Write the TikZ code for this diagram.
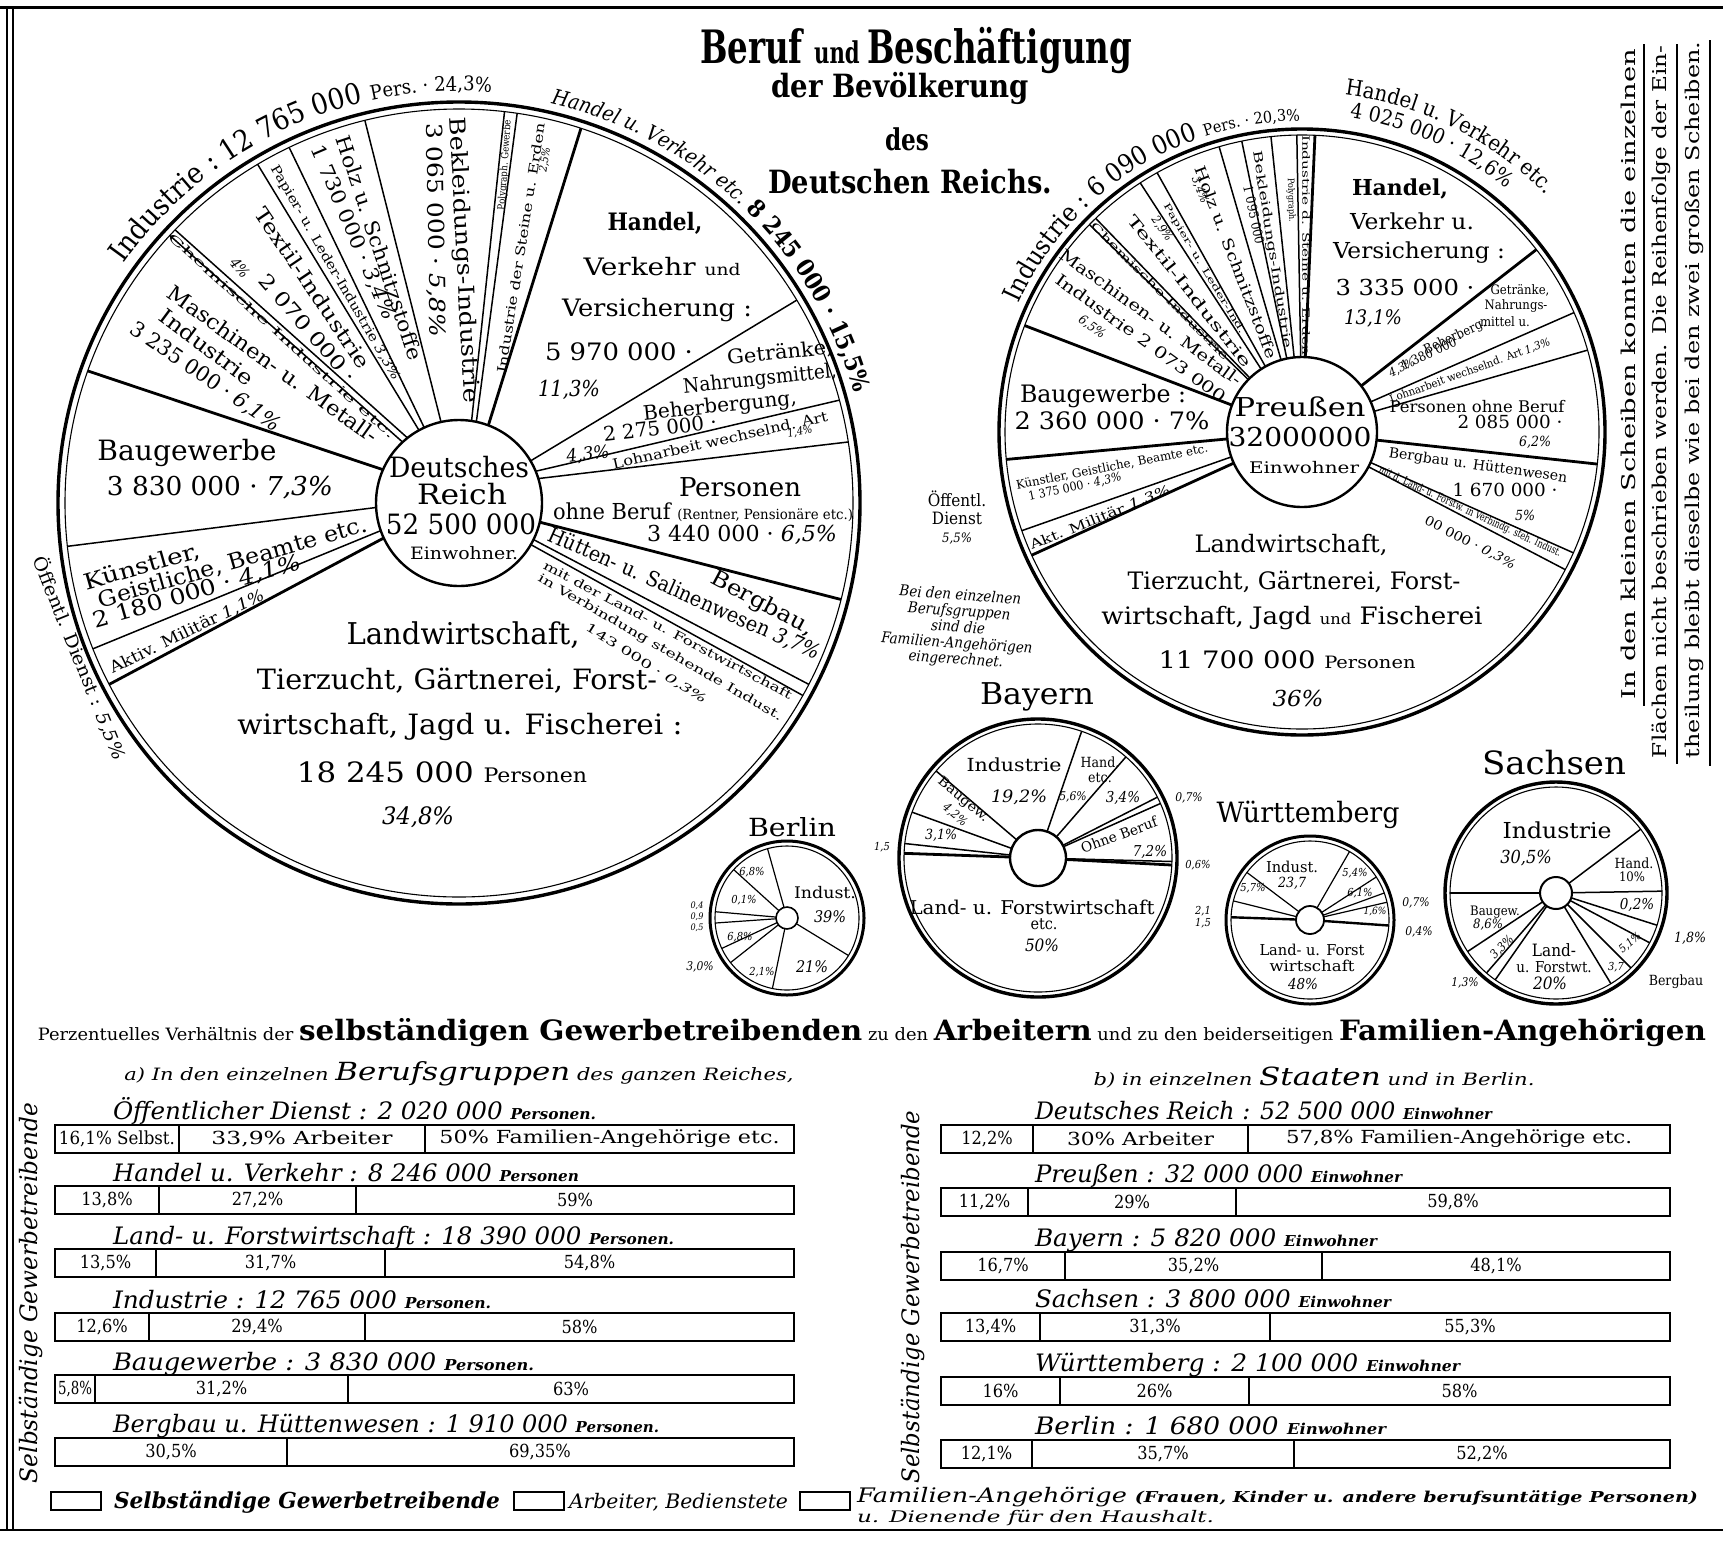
\documentclass[tikz,border=0pt]{standalone}
\usepackage{fontspec}
\setmainfont{DejaVu Serif Condensed}
\usepackage{graphicx}
\usetikzlibrary{calc,decorations.text}

% picture units are pt, so font sizes are given in the same units
\newcommand{\fsz}[1]{\fontsize{#1}{#1}\selectfont}
% set a text to a given width, height kept
\newcommand{\fitw}[2]{\resizebox{#1pt}{\height}{#2}}
% one bar of three parts: name, y, left, cut, cut, right, three texts
\newcommand{\pctbar}[9]{%
  \draw[barbox] (#3,-#2+14) rectangle (#6,-#2-14);
  \draw[barsep] (#4,-#2+14) -- (#4,-#2-14);
  \draw[barsep] (#5,-#2+14) -- (#5,-#2-14);
  \node[lab] (#1a) at ({(#3+#4)/2},-#2) {\fsz{18}#7};
  \node[lab] (#1b) at ({(#4+#5)/2},-#2) {\fsz{18}#8};
  \node[lab] (#1c) at ({(#5+#6)/2},-#2) {\fsz{18}#9};
}

\begin{document}
\begin{tikzpicture}[
    x=1pt, y=1pt,
    rimo/.style={line width=3.4pt},
    rimi/.style={line width=1.1pt},
    spoke/.style={line width=1.5pt},
    heavy/.style={line width=2.8pt},
    hub/.style={draw, circle, line width=2.4pt, fill=white, inner sep=0pt},
    lab/.style={inner sep=0pt, outer sep=0pt},
    ilab/.style={lab, font=\itshape},
    barbox/.style={line width=2.4pt},
    barsep/.style={line width=1.6pt},
    keybox/.style={draw, line width=1.8pt, inner sep=0pt, minimum width=50, minimum height=18}
  ]
  \useasboundingbox (0,0) rectangle (1723,-1542);

  % frame
  \draw[line width=3pt] (0,-7) -- (1723,-7);
  \draw[line width=2.4pt] (7,-7) -- (7,-1530);
  \draw[line width=1.4pt] (13,-7) -- (13,-1530);
  \draw[line width=2.2pt] (0,-1530) -- (1723,-1530);

  % title
  \node[lab, anchor=base] (title) at (916,-63) {\fitw{432}{\bfseries\fsz{46}Beruf \fsz{30}und \fsz{46}Beschäftigung}};
  \node[lab, anchor=base] (title2) at (900,-97) {\fitw{257}{\bfseries\fsz{32}der Bevölkerung}};
  \node[lab, anchor=base] (title3) at (907,-150) {\fitw{44}{\bfseries\fsz{30}des}};
  \node[lab, anchor=base] (title4) at (910,-193) {\fitw{284}{\bfseries\fsz{32}Deutschen Reichs.}};

  % ---------------- Deutsches Reich ----------------
  \coordinate (C) at (459,-503);
  \draw[rimo] (C) circle[radius=401];
  \draw[rimi] (C) circle[radius=394];
  \begin{scope}
    \clip (C) circle[radius=394];
    \foreach \xo/\yo/\xi/\yi in {167/233/398/438, 173/228/402/433, 255/160/417/427,
        287/143/422/423, 363/113/440/418, 505/107/472/417, 518/107/477/417,
        797/300/537/457, 840/400/541/470, 848/442/543/478, 810/685/540/543,
        802/695/537/548, 90/650/375/533, 62/547/372/508}
      \draw[spoke] ($(\xo,-\yo)!1.06!(\xi,-\yi)$) -- ($(\xi,-\yi)!1.08!(\xo,-\yo)$);
    \foreach \xo/\yo/\xi/\yi in {85/370/378/468, 582/125/490/420, 843/600/543/523, 108/685/380/540}
      \draw[heavy] ($(\xo,-\yo)!1.06!(\xi,-\yi)$) -- ($(\xi,-\yi)!1.08!(\xo,-\yo)$);
  \end{scope}
  \node[hub, minimum size=166] (reich) at (C) {};
  \node[lab] (reichA) at (459,-467) {\fitw{140}{\fsz{28}Deutsches}};
  \node[lab] (reichB) at (462,-494) {\fitw{90}{\fsz{28}Reich}};
  \node[lab] (reichC) at (461,-524) {\fitw{150}{\fsz{28}52 500 000}};
  \node[lab] (reichD) at (464,-553) {\fitw{108}{\fsz{17}Einwohner.}};

  \path[decorate, decoration={text along path, text align=center,
      text={|\fsz{29}|Industrie : 12 765 000 |\fsz{20}|Pers. · 24,3{\%}}}]
    ($(C)+(156:412)$) arc[start angle=156, end angle=74, radius=412];
  \path[decorate, decoration={text along path, text align=center,
      text={|\itshape\fsz{21}|Handel u. Verkehr etc. |\upshape\bfseries\fsz{24}|8 245 000 · 15,5{\%}}}]
    ($(C)+(86:410)$) arc[start angle=86, end angle=6.6, radius=410];

  \node[lab] (bau) at (187,-453) {\fitw{179}{\fsz{28}Baugewerbe}};
  \node[lab] (bauN) at (220,-488) {\fitw{226}{\fsz{26}3 830 000 · \textit{7,3\%}}};
  \node[lab, rotate=16] (kunA) at (142,-567) {\fitw{120}{\fsz{22}Künstler,}};
  \node[lab, rotate=16] (kunB) at (233,-563) {\fitw{279}{\fsz{22}Geistliche, Beamte etc.}};
  \node[lab, rotate=16] (kunC) at (197,-592) {\fitw{215}{\fsz{22}2 180 000 · \textit{4,1\%}}};
  \node[lab, rotate=26] (mil) at (187,-632) {\fitw{170}{\fsz{16}Aktiv. Militär \textit{1,1\%}}};
  \node[lab, rotate=-68] (oeff) at (80,-658) {\fitw{218}{\fsz{18}Öffentl. Dienst : \textit{5,5\%}}};

  \node[lab] (lwA) at (463,-635) {\fitw{233}{\fsz{30}Landwirtschaft,}};
  \node[lab] (lwB) at (457,-681) {\fitw{400}{\fsz{28}Tierzucht, Gärtnerei, Forst-}};
  \node[lab] (lwC) at (460,-727) {\fitw{445}{\fsz{28}wirtschaft, Jagd u. Fischerei :}};
  \node[lab] (lwD) at (442,-772) {\fitw{290}{\fsz{28}18 245 000 \fsz{20}Personen}};
  \node[ilab] (lwE) at (418,-817) {\fitw{72}{\fsz{24}34,8\%}};

  \node[lab, rotate=-28] (berg) at (762,-604) {\fitw{113}{\fsz{22}Bergbau,}};
  \node[lab, rotate=-24] (huet) at (684,-594) {\fitw{295}{\fsz{21}Hütten- u. Salinenwesen \textit{3,7\%}}};
  \node[lab, rotate=-28] (bandA) at (668,-630) {\fitw{280}{\fsz{12}mit der Land- u. Forstwirtschaft}};
  \node[lab, rotate=-30] (bandB) at (660,-648) {\fitw{280}{\fsz{12}in Verbindung stehende Indust.}};
  \node[lab, rotate=-32] (bandC) at (646,-664) {\fitw{140}{\fsz{12}143 000 · \textit{0,3\%}}};

  \node[lab] (pers) at (740,-487) {\fitw{122}{\fsz{26}Personen}};
  \node[lab] (persB) at (703,-512) {\fitw{300}{\fsz{22}ohne Beruf {\fsz{14}(Rentner, Pensionäre etc.)}}};
  \node[lab] (persC) at (742,-535) {\fitw{190}{\fsz{22}3 440 000 · \textit{6,5\%}}};

  \node[lab, rotate=12.6] (lohn) at (720,-440) {\fitw{220}{\fsz{14}Lohnarbeit wechselnd. Art}};
  \node[ilab, rotate=10] (lohnP) at (800,-432) {\fsz{11}1,4\%};

  \node[lab, rotate=6] (getA) at (780,-353) {\fitw{106}{\fsz{20}Getränke,}};
  \node[lab, rotate=6] (getB) at (760,-380) {\fitw{154}{\fsz{20}Nahrungsmittel,}};
  \node[lab, rotate=6] (getC) at (720,-407) {\fitw{154}{\fsz{20}Beherbergung,}};
  \node[lab, rotate=6] (getD) at (660,-428) {\fitw{114}{\fsz{20}2 275 000 ·}};
  \node[ilab, rotate=6] (getE) at (588,-455) {\fitw{43}{\fsz{18}4,3\%}};

  \node[lab] (hanA) at (655,-223) {\fitw{95}{\bfseries\fsz{24}Handel,}};
  \node[lab] (hanB) at (662,-267) {\fitw{157}{\fsz{24}Verkehr \fsz{16}und}};
  \node[lab] (hanC) at (657,-310) {\fitw{190}{\fsz{24}Versicherung :}};
  \node[lab] (hanD) at (619,-352) {\fitw{148}{\fsz{24}5 970 000 ·}};
  \node[ilab] (hanE) at (569,-390) {\fitw{62}{\fsz{22}11,3\%}};

  \node[lab, rotate=81] (steine) at (521,-248) {\fitw{253}{\fsz{13}Industrie der Steine u. Erden}};
  \node[ilab, rotate=81] (steineP) at (545,-160) {\fsz{11}2,5\%};
  \node[lab, rotate=86] (poly) at (505,-165) {\fitw{90}{\fsz{10}Polygraph. Gewerbe}};
  \node[lab, rotate=-87] (bekl) at (463,-260) {\fitw{286}{\fsz{22}Bekleidungs-Industrie}};
  \node[lab, rotate=-89] (beklN) at (435,-230) {\fitw{214}{\fsz{22}3 065 000 · \textit{5,8\%}}};
  \node[lab, rotate=-71.6] (holz) at (380,-248) {\fitw{235}{\fsz{20}Holz u. Schnitzstoffe}};
  \node[lab, rotate=-67] (holzN) at (353,-233) {\fitw{188}{\fsz{20}1 730 000 · \textit{3,4\%}}};
  \node[lab, rotate=-60] (papier) at (335,-273) {\fitw{246}{\fsz{13}Papier- u. Leder-Industrie \textit{3,3\%}}};
  \node[lab, rotate=-56] (textil) at (313,-288) {\fitw{190}{\fsz{20}Textil-Industrie}};
  \node[lab, rotate=-49] (textilN) at (308,-328) {\fitw{137}{\fsz{20}2 070 000 ·}};
  \node[ilab, rotate=-50] (textilP) at (240,-268) {\fsz{15}4\%};
  \node[lab, rotate=-42] (chem) at (282,-336) {\fitw{300}{\fsz{11}Chemische Industrie etc.}};
  \node[lab, rotate=-35.6] (masch) at (273,-364) {\fitw{254}{\fsz{21}Maschinen- u. Metall-}};
  \node[lab, rotate=-36.7] (maschB) at (207,-347) {\fitw{112}{\fsz{21}Industrie}};
  \node[lab, rotate=-34.4] (maschN) at (205,-377) {\fitw{177}{\fsz{21}3 235 000 · \textit{6,1\%}}};

  % ---------------- Preussen ----------------
  \coordinate (P) at (1302,-432);
  \draw[rimo] (P) circle[radius=303];
  \draw[rimi] (P) circle[radius=297];
  \foreach \a in {91, 96, 101.7, 106.2, 119.2, 123, 134, 135.7, 199.4, 23.7, 16, -24, -27.6}
    \draw[spoke] (P) ++(\a:70) -- ++(\a:227);
  \foreach \a in {87.5, 159, 185.3, 204.5, 37.9, -6.2}
    \draw[heavy] (P) ++(\a:70) -- ++(\a:227);
  \node[hub, minimum size=150] (preussen) at (P) {};
  \node[lab] (prA) at (1300,-407) {\fitw{131}{\fsz{26}Preußen}};
  \node[lab] (prB) at (1300,-437) {\fitw{143}{\fsz{26}32000000}};
  \node[lab] (prC) at (1304,-468) {\fitw{110}{\fsz{16}Einwohner}};

  \path[decorate, decoration={text along path, text align=center,
      text={|\fsz{26}|Industrie : 6 090 000 |\fsz{16}|Pers. · 20,3{\%}}}]
    ($(P)+(168:311)$) arc[start angle=168, end angle=78, radius=311];
  \path[decorate, decoration={text along path, text align=center,
      text={|\fsz{22}|Handel u. Verkehr etc.}}]
    ($(P)+(95:340)$) arc[start angle=95, end angle=32, radius=340];
  \path[decorate, decoration={text along path, text align=center,
      text={|\fsz{21}|4 025 000 · 12,6{\%}}}]
    ($(P)+(95:318)$) arc[start angle=95, end angle=36.4, radius=318];

  \node[lab] (pbau) at (1103,-396) {\fitw{166}{\fsz{24}Baugewerbe :}};
  \node[lab] (pbauN) at (1112,-421) {\fitw{195}{\fsz{24}2 360 000 · 7\%}};
  \node[lab, rotate=11] (pkun) at (1112,-467) {\fitw{195}{\fsz{12}Künstler, Geistliche, Beamte etc.}};
  \node[lab, rotate=12] (pkunN) at (1075,-487) {\fitw{95}{\fsz{12}1 375 000 · \textit{4,3\%}}};
  \node[lab, rotate=22] (pmil) at (1100,-518) {\fitw{150}{\fsz{13}Akt. Militär \textit{1,3\%}}};
  \node[lab, align=center, font=\fsz{17}] (poeff) at (957,-518) {Öffentl.\\[1pt]Dienst\\[1pt]\fsz{13}\textit{5,5\%}};
  \node[ilab, align=center, rotate=-4, font=\itshape\fsz{15}] (pnote) at (958,-628) {Bei den einzelnen\\[1pt]Berufsgruppen\\[1pt]sind die\\[1pt]Familien-Angehörigen\\[1pt]eingerechnet.};

  \node[lab] (plwA) at (1291,-545) {\fitw{193}{\fsz{24}Landwirtschaft,}};
  \node[lab] (plwB) at (1294,-582) {\fitw{333}{\fsz{24}Tierzucht, Gärtnerei, Forst-}};
  \node[lab] (plwC) at (1292,-618) {\fitw{381}{\fsz{24}wirtschaft, Jagd \fsz{15}und\fsz{24} Fischerei}};
  \node[lab] (plwD) at (1287,-660) {\fitw{257}{\fsz{24}11 700 000 \fsz{17}Personen}};
  \node[ilab] (plwE) at (1298,-698) {\fitw{51}{\fsz{22}36\%}};

  \node[lab] (phA) at (1400,-189) {\fitw{96}{\bfseries\fsz{22}Handel,}};
  \node[lab] (phB) at (1412,-221) {\fitw{124}{\fsz{22}Verkehr u.}};
  \node[lab] (phC) at (1419,-253) {\fitw{172}{\fsz{22}Versicherung :}};
  \node[lab] (phD) at (1405,-287) {\fitw{139}{\fsz{22}3 335 000 ·}};
  \node[ilab] (phE) at (1373,-318) {\fitw{58}{\fsz{20}13,1\%}};

  \node[lab] (pgA) at (1520,-290) {\fsz{13}Getränke,};
  \node[lab] (pgB) at (1516,-306) {\fsz{13}Nahrungs-};
  \node[lab] (pgC) at (1505,-322) {\fsz{13}mittel u.};
  \node[lab, rotate=25] (pgD) at (1455,-337) {\fsz{13}Beherberg.};
  \node[lab, rotate=25] (pgE) at (1432,-352) {\fsz{13}1 380 000 ·};
  \node[ilab, rotate=25] (pgF) at (1402,-368) {\fsz{12}4,3\%};
  \node[lab, rotate=20] (plohn) at (1470,-371) {\fitw{170}{\fsz{11}Lohnarbeit wechselnd. Art \textit{1,3\%}}};
  \node[lab] (ppA) at (1477,-407) {\fitw{175}{\fsz{16}Personen ohne Beruf}};
  \node[lab] (ppB) at (1510,-422) {\fitw{105}{\fsz{18}2 085 000 ·}};
  \node[ilab] (ppC) at (1535,-442) {\fsz{14}6,2\%};
  \node[lab, rotate=-8] (pbgA) at (1478,-466) {\fitw{180}{\fsz{14}Bergbau u. Hüttenwesen}};
  \node[lab] (pbgB) at (1505,-490) {\fitw{105}{\fsz{18}1 670 000 ·}};
  \node[ilab] (pbgC) at (1525,-515) {\fsz{14}5\%};
  \node[lab, rotate=-25] (pbnA) at (1470,-512) {\fitw{200}{\fsz{11}mit d. Land- u. Forstw. in Verbindg. steh. Indust.}};
  \node[lab, rotate=-27] (pbnB) at (1470,-543) {\fitw{100}{\fsz{13}00 000 · \textit{0,3\%}}};

  \node[lab, rotate=-36] (pmA) at (1151,-317) {\fitw{220}{\fsz{16}Maschinen- u. Metall-}};
  \node[lab, rotate=-36] (pmB) at (1141,-338) {\fitw{206}{\fsz{16}Industrie 2 073 000}};
  \node[ilab, rotate=-36] (pmC) at (1092,-327) {\fsz{13}6,5\%};
  \node[lab, rotate=-45] (pchem) at (1160,-291) {\fitw{190}{\fsz{10}Chemische Industrie}};
  \node[lab, rotate=-51.5] (ptex) at (1190,-291) {\fitw{190}{\fsz{15}Textil-Industrie}};
  \node[ilab, rotate=-55] (ptexP) at (1162,-229) {\fsz{12}2,9\%};
  \node[lab, rotate=-59] (ppap) at (1204,-269) {\fitw{150}{\fsz{9}Papier- u. Leder-Ind.}};
  \node[lab, rotate=-69] (pholz) at (1236,-262) {\fitw{205}{\fsz{15}Holz u. Schnitzstoffe}};
  \node[ilab, rotate=-69] (pholzP) at (1200,-190) {\fsz{12}3,4\%};
  \node[lab, rotate=-81] (pbek) at (1272,-250) {\fitw{200}{\fsz{12}Bekleidungs-Industrie}};
  \node[lab, rotate=-78] (pbekN) at (1254,-215) {\fsz{13}1 095 000};
  \node[lab, rotate=-88] (ppoly) at (1291,-200) {\fsz{9}Polygraph.};
  \node[lab, rotate=-90] (pstein) at (1306,-245) {\fitw{220}{\fsz{10}Industrie d. Steine u. Erden}};

  % ---------------- Berlin ----------------
  \coordinate (berlin) at (787,-918);
  \draw[rimo, line width=3pt] (berlin) circle[radius=77];
  \draw[rimi] (berlin) circle[radius=72];
  \foreach \a in {105.7, -31.4, 258.3, 218.3, 137.8, 175, 184, 205}
    \draw[spoke, line width=1.2pt] (berlin) ++(\a:10) -- ++(\a:62);
  \node[hub, minimum size=22, line width=1.6pt] (berlinhub) at (berlin) {};
  \node[lab] (beT) at (792,-827) {\fitw{88}{\fsz{25}Berlin}};
  \node[lab] (beInd) at (825,-893) {\fitw{62}{\fsz{16}Indust.}};
  \node[ilab] (beIndP) at (830,-917) {\fsz{16}39\%};
  \node[ilab] (be21) at (812,-967) {\fsz{16}21\%};
  \node[ilab] (be2) at (762,-972) {\fsz{11}2,1\%};
  \node[ilab] (be3) at (700,-967) {\fsz{12}3,0\%};
  \node[ilab] (be68) at (752,-872) {\fsz{11}6,8\%};
  \node[ilab] (be01) at (744,-900) {\fsz{11}0,1\%};
  \node[ilab] (be6b) at (740,-937) {\fsz{11}6,8\%};
  \node[ilab] (beL1) at (697,-906) {\fsz{9}0,4};
  \node[ilab] (beL2) at (697,-917) {\fsz{9}0,9};
  \node[ilab] (beL3) at (697,-928) {\fsz{9}0,5};

  % ---------------- Bayern ----------------
  \coordinate (bayern) at (1038,-858);
  \draw[rimo] (bayern) circle[radius=139];
  \draw[rimi] (bayern) circle[radius=134];
  \foreach \a in {71, 49, 27, 24, -1.5, 139.5, 160, 173.8}
    \draw[spoke] (bayern) ++(\a:26) -- ++(\a:108);
  \foreach \a in {-3, 178}
    \draw[heavy] (bayern) ++(\a:26) -- ++(\a:108);
  \node[hub, minimum size=56] (bayernhub) at (bayern) {};
  \node[lab] (bayT) at (1037,-697) {\fitw{114}{\fsz{30}Bayern}};
  \node[lab] (bayInd) at (1014,-765) {\fitw{95}{\fsz{18}Industrie}};
  \node[ilab] (bayIndP) at (1019,-797) {\fitw{56}{\fsz{17}19,2\%}};
  \node[lab] (bayHa) at (1100,-762) {\fsz{14}Hand.};
  \node[lab] (bayHb) at (1100,-778) {\fsz{14}etc.};
  \node[ilab] (bayHP) at (1073,-797) {\fsz{12}5,6\%};
  \node[ilab] (bay34) at (1123,-798) {\fsz{15}3,4\%};
  \node[ilab] (bay07) at (1189,-798) {\fsz{12}0,7\%};
  \node[lab, rotate=20] (bayOB) at (1119,-835) {\fitw{80}{\fsz{14}Ohne Beruf}};
  \node[ilab] (bay72) at (1150,-852) {\fsz{15}7,2\%};
  \node[ilab] (bay06) at (1198,-865) {\fsz{11}0,6\%};
  \node[lab, rotate=-40] (bayBau) at (963,-800) {\fitw{62}{\fsz{13}Baugew.}};
  \node[ilab, rotate=-40] (bayBauP) at (955,-815) {\fsz{12}4,2\%};
  \node[ilab] (bay31) at (941,-835) {\fsz{14}3,1\%};
  \node[ilab] (bay15) at (882,-847) {\fsz{11}1,5};
  \node[lab] (bayLa) at (1032,-907) {\fitw{245}{\fsz{19}Land- u. Forstwirtschaft}};
  \node[lab] (bayLb) at (1044,-924) {\fsz{16}etc.};
  \node[ilab] (bayLc) at (1042,-945) {\fsz{17}50\%};

  % ---------------- Wuerttemberg ----------------
  \coordinate (wuertt) at (1310,-920);
  \draw[rimo, line width=3pt] (wuertt) circle[radius=84];
  \draw[rimi] (wuertt) circle[radius=79];
  \foreach \a in {60, 33, 143, 166, 20, 13}
    \draw[spoke, line width=1.2pt] (wuertt) ++(\a:13) -- ++(\a:66);
  \foreach \a in {178, -4}
    \draw[heavy, line width=2.4pt] (wuertt) ++(\a:13) -- ++(\a:66);
  \node[hub, minimum size=28, line width=1.8pt] (wuertthub) at (wuertt) {};
  \node[lab] (wbT) at (1308,-815) {\fitw{183}{\fsz{28}Württemberg}};
  \node[lab] (wbInd) at (1292,-867) {\fitw{52}{\fsz{15}Indust.}};
  \node[ilab] (wbIndP) at (1292,-883) {\fsz{14}23,7};
  \node[ilab] (wb57) at (1253,-888) {\fsz{11}5,7\%};
  \node[ilab] (wb54) at (1355,-873) {\fsz{11}5,4\%};
  \node[ilab] (wb61) at (1360,-893) {\fsz{11}6,1\%};
  \node[ilab] (wb16) at (1375,-911) {\fsz{10}1,6\%};
  \node[ilab] (wb07) at (1416,-903) {\fsz{12}0,7\%};
  \node[ilab] (wb04) at (1419,-932) {\fsz{12}0,4\%};
  \node[ilab] (wb21) at (1203,-911) {\fsz{11}2,1};
  \node[ilab] (wb15) at (1203,-923) {\fsz{11}1,5};
  \node[lab] (wbLa) at (1312,-950) {\fitw{105}{\fsz{15}Land- u. Forst}};
  \node[lab] (wbLb) at (1312,-966) {\fitw{85}{\fsz{15}wirtschaft}};
  \node[ilab] (wbLc) at (1303,-984) {\fsz{15}48\%};

  % ---------------- Sachsen ----------------
  \coordinate (sachsen) at (1556,-893);
  \draw[rimo] (sachsen) circle[radius=111];
  \draw[rimi] (sachsen) circle[radius=106];
  \foreach \a in {37, 1, 180, -17.7, -28, -45, -58.8, 235, 229, 213.5}
    \draw[spoke] (sachsen) ++(\a:15) -- ++(\a:91);
  \node[hub, minimum size=32, line width=2pt] (sachsenhub) at (sachsen) {};
  \node[lab] (saT) at (1554,-763) {\fitw{144}{\fsz{32}Sachsen}};
  \node[lab] (saInd) at (1557,-830) {\fitw{109}{\fsz{22}Industrie}};
  \node[ilab] (saIndP) at (1526,-858) {\fsz{18}30,5\%};
  \node[lab] (saHa) at (1634,-863) {\fsz{14}Hand.};
  \node[lab] (saHb) at (1632,-877) {\fsz{13}10\%};
  \node[ilab] (sa02) at (1637,-905) {\fsz{15}0,2\%};
  \node[lab] (saBa) at (1495,-912) {\fsz{13}Baugew.};
  \node[ilab] (saBb) at (1488,-925) {\fsz{13}8,6\%};
  \node[ilab, rotate=45] (sa33) at (1502,-947) {\fsz{12}3,3\%};
  \node[lab] (saLa) at (1554,-950) {\fsz{17}Land-};
  \node[lab] (saLb) at (1554,-967) {\fsz{15}u. Forstwt.};
  \node[ilab] (saLc) at (1550,-983) {\fsz{17}20\%};
  \node[ilab] (sa37) at (1616,-967) {\fsz{11}3,7};
  \node[ilab, rotate=40] (sa51) at (1630,-943) {\fsz{11}5,1\%};
  \node[ilab] (sa18) at (1690,-938) {\fsz{14}1,8\%};
  \node[lab] (saBg) at (1676,-982) {\fsz{14}Bergbau};
  \node[ilab] (sa13) at (1465,-983) {\fsz{12}1,3\%};

  % ---------------- note at the right ----------------
  \node[lab, rotate=90] (noteA) at (1628,-374) {\fitw{650}{\fsz{19}In den kleinen Scheiben konnten die einzelnen}};
  \node[lab, rotate=90] (noteB) at (1661,-402) {\fitw{712}{\fsz{19}Flächen nicht beschrieben werden. Die Reihenfolge der Ein-}};
  \node[lab, rotate=90] (noteC) at (1694,-400) {\fitw{716}{\fsz{19}theilung bleibt dieselbe wie bei den zwei großen Scheiben.}};
  \draw[line width=2.4pt] (1644,-44) -- (1644,-706);
  \draw[line width=2.4pt] (1677,-44) -- (1677,-764);
  \draw[line width=2.4pt] (1710,-40) -- (1710,-766);

  % ---------------- percentages ----------------
  \node[lab, anchor=base] (pct) at (872,-1040) {\fitw{1668}{\fsz{17}Perzentuelles Verhältnis der \fsz{28}\bfseries selbständigen Gewerbetreibenden\mdseries\fsz{17} zu den \fsz{28}\bfseries Arbeitern\mdseries\fsz{17} und zu den beiderseitigen \fsz{28}\bfseries Familien-Angehörigen}};
  \node[lab, anchor=base] (suba) at (459,-1080) {\fitw{669}{\itshape\fsz{17}a) In den einzelnen \fsz{25}Berufsgruppen\fsz{17} des ganzen Reiches,}};
  \node[lab, anchor=base] (subb) at (1314,-1085) {\fitw{441}{\itshape\fsz{17}b) in einzelnen \fsz{25}Staaten\fsz{17} und in Berlin.}};

  \node[ilab, rotate=90] (sideL) at (31,-1293) {\fitw{380}{\fsz{24}Selbständige Gewerbetreibende}};
  \node[ilab, rotate=90] (sideR) at (913,-1297) {\fitw{373}{\fsz{24}Selbständige Gewerbetreibende}};

  \node[ilab, anchor=base west] (oedT) at (113,-1119) {\fitw{483}{\fsz{24}Öffentlicher Dienst : 2 020 000 {\bfseries\fsz{15}Personen.}}};
  \pctbar{oed}{1139}{55}{179}{425}{794}{\fitw{116}{16,1\% Selbst.}}{\fitw{181}{33,9\% Arbeiter}}{\fitw{340}{50\% Familien-Angehörige etc.}}
  \node[ilab, anchor=base west] (hvT) at (113,-1181) {\fitw{466}{\fsz{24}Handel u. Verkehr : 8 246 000 {\bfseries\fsz{15}Personen}}};
  \pctbar{hv}{1200}{55}{159}{356}{794}{13,8\%}{27,2\%}{59\%}
  \node[ilab, anchor=base west] (lfT) at (113,-1244) {\fitw{561}{\fsz{24}Land- u. Forstwirtschaft : 18 390 000 {\bfseries\fsz{15}Personen.}}};
  \pctbar{lf}{1263}{55}{156}{385}{794}{13,5\%}{31,7\%}{54,8\%}
  \node[ilab, anchor=base west] (indT) at (113,-1308) {\fitw{378}{\fsz{24}Industrie : 12 765 000 {\bfseries\fsz{15}Personen.}}};
  \pctbar{ind}{1327}{55}{149}{365}{794}{12,6\%}{29,4\%}{58\%}
  \node[ilab, anchor=base west] (bgT) at (113,-1370) {\fitw{421}{\fsz{24}Baugewerbe : 3 830 000 {\bfseries\fsz{15}Personen.}}};
  \pctbar{bg}{1389}{55}{95}{348}{794}{\fitw{34}{5,8\%}}{31,2\%}{63\%}
  \node[ilab, anchor=base west] (bhT) at (113,-1432) {\fitw{546}{\fsz{24}Bergbau u. Hüttenwesen : 1 910 000 {\bfseries\fsz{15}Personen.}}};
  \draw[barbox] (55,-1438) rectangle (794,-1466);
  \draw[barsep] (287,-1438) -- (287,-1466);
  \node[lab] (bha) at (171,-1452) {\fsz{18}30,5\%};
  \node[lab] (bhb) at (540,-1452) {\fsz{18}69,35\%};

  \node[ilab, anchor=base west] (drT) at (1035,-1119) {\fitw{457}{\fsz{24}Deutsches Reich : 52 500 000 {\bfseries\fsz{15}Einwohner}}};
  \pctbar{dr}{1139}{941}{1033}{1248}{1670}{12,2\%}{\fitw{147}{30\% Arbeiter}}{\fitw{346}{57,8\% Familien-Angehörige etc.}}
  \node[ilab, anchor=base west] (prT) at (1035,-1182) {\fitw{367}{\fsz{24}Preußen : 32 000 000 {\bfseries\fsz{15}Einwohner}}};
  \pctbar{pr}{1202}{941}{1028}{1236}{1670}{11,2\%}{29\%}{59,8\%}
  \node[ilab, anchor=base west] (byT) at (1035,-1246) {\fitw{342}{\fsz{24}Bayern : 5 820 000 {\bfseries\fsz{15}Einwohner}}};
  \pctbar{by}{1266}{941}{1065}{1322}{1670}{16,7\%}{35,2\%}{48,1\%}
  \node[ilab, anchor=base west] (saTT) at (1035,-1307) {\fitw{356}{\fsz{24}Sachsen : 3 800 000 {\bfseries\fsz{15}Einwohner}}};
  \pctbar{sa}{1327}{941}{1040}{1270}{1670}{13,4\%}{31,3\%}{55,3\%}
  \node[ilab, anchor=base west] (wbTT) at (1035,-1371) {\fitw{425}{\fsz{24}Württemberg : 2 100 000 {\bfseries\fsz{15}Einwohner}}};
  \pctbar{wb}{1391}{941}{1060}{1249}{1670}{16\%}{26\%}{58\%}
  \node[ilab, anchor=base west] (blT) at (1035,-1434) {\fitw{351}{\fsz{24}Berlin : 1 680 000 {\bfseries\fsz{15}Einwohner}}};
  \pctbar{bl}{1454}{941}{1032}{1294}{1670}{12,1\%}{35,7\%}{52,2\%}

  % key
  \node[keybox, anchor=west] (key1) at (50,-1501) {};
  \node[ilab, anchor=base west] (key1t) at (114,-1508) {\fitw{386}{\bfseries\fsz{22}Selbständige Gewerbetreibende}};
  \node[keybox, anchor=west] (key2) at (513,-1501) {};
  \node[ilab, anchor=base west] (key2t) at (569,-1508) {\fitw{219}{\fsz{20}Arbeiter, Bedienstete}};
  \node[keybox, anchor=west] (key3) at (799,-1501) {};
  \node[ilab, anchor=base west] (key3t) at (857,-1502) {\fitw{841}{\fsz{20}Familien-Angehörige {\bfseries\fsz{15}(Frauen, Kinder u. andere berufsuntätige Personen)}}};
  \node[ilab, anchor=base west] (key3u) at (857,-1522) {\fitw{357}{\fsz{16}u. Dienende für den Haushalt.}};
\end{tikzpicture}
\end{document}
